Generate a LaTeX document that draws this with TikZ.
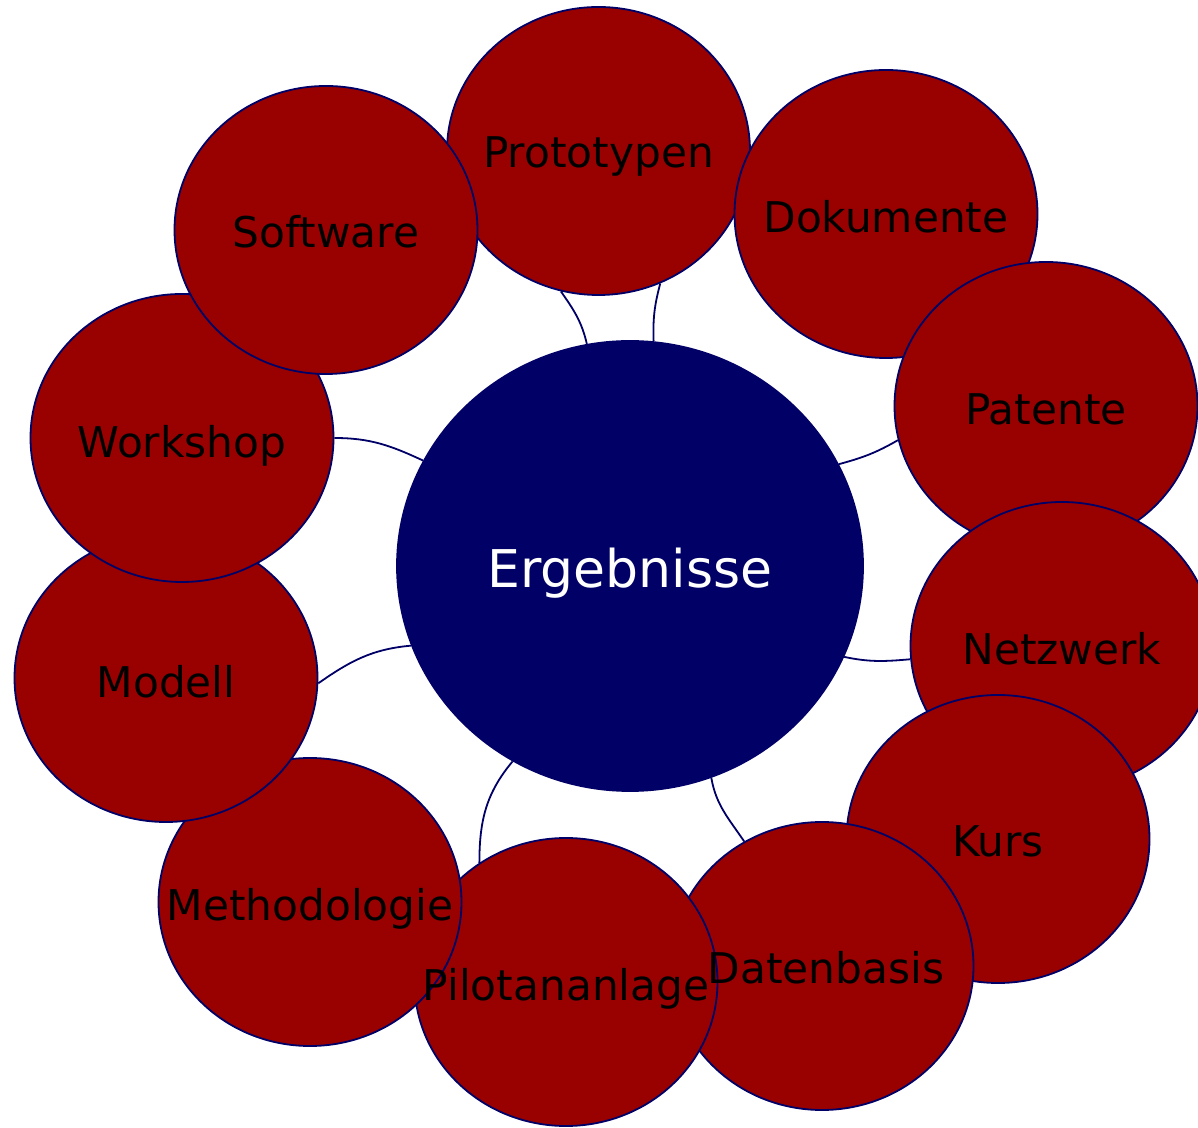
\documentclass[tikz,border=0pt]{standalone}
\usepackage{fontspec}
\setmainfont{DejaVu Sans}
\usetikzlibrary{shapes.geometric}
\pgfdeclarelayer{background}
\pgfsetlayers{background,main}
\definecolor{redfill}{HTML}{990000}
\definecolor{navy}{HTML}{000066}
\tikzset{
  bubble/.style={ellipse, draw=navy, fill=redfill, line width=1.8pt, minimum width=303pt, minimum height=288pt, inner sep=0pt},
  hub/.style={ellipse, draw=navy, fill=navy, line width=1.8pt, minimum width=466pt, minimum height=450pt, inner sep=0pt},
  lbl/.style={anchor=base, inner sep=0pt, text=black, font=\fontsize{42.3}{50}\selectfont},
  hublbl/.style={anchor=base, inner sep=0pt, text=white, font=\fontsize{52}{60}\selectfont},
  conn/.style={draw=navy, line width=1.8pt}
}
\begin{document}
\begin{tikzpicture}[x=1pt,y=1pt]
\useasboundingbox (0,0) rectangle (1198,1127);
\clip (0,0) rectangle (1198,1127);
\node[hub] (C) at (630,561) {};
\node[bubble] (P)  at (598.5,976) {};
\node[bubble] (D)  at (886,913) {};
\node[bubble] (Pa) at (1046,721) {};
\node[bubble] (N)  at (1062,481) {};
\node[bubble] (K)  at (998,288) {};
\node[bubble] (Da) at (822,161) {};
\node[bubble] (Pi) at (566,145) {};
\node[bubble] (Me) at (310,225) {};
\node[bubble] (Mo) at (166,449) {};
\node[bubble] (W)  at (182,689) {};
\node[bubble] (S)  at (326,897) {};
\begin{pgfonlayer}{background}
\path[conn] (C.101) to[out=103,in=-55] (P.255);
\path[conn] (C.84) to[out=92,in=-105] (P.295);
\path[conn] (W.0) to[out=0,in=155] (C.153);
\path[conn] (C.26) to[out=15,in=210] (Pa.193);
\path[conn] (C.-23) to[out=-12,in=185] (N.185);
\path[conn] (Mo.-2) to[out=35,in=185] (C.200.6);
\path[conn] (C.239.4) to[out=-130,in=90] (Pi.126.4);
\path[conn] (C.-69.8) to[out=-80,in=124] (Da.122);
\end{pgfonlayer}
\node[hublbl] (tC)  at ([yshift=-22pt]C.center) {Ergebnisse};
\node[lbl] (tP)  at ([yshift=-17pt]P.center) {Prototypen};
\node[lbl] (tD)  at ([yshift=-19pt]D.center) {Dokumente};
\node[lbl] (tPa) at ([yshift=-19pt]Pa.center) {Patente};
\node[lbl] (tN)  at ([yshift=-19pt]N.center) {Netzwerk};
\node[lbl] (tK)  at ([yshift=-17pt]K.center) {Kurs};
\node[lbl] (tDa) at ([xshift=4pt,yshift=-17pt]Da.center) {Datenbasis};
\node[lbl] (tPi) at ([yshift=-18pt]Pi.center) {Pilotananlage};
\node[lbl] (tMe) at ([yshift=-18pt]Me.center) {Methodologie};
\node[lbl] (tMo) at ([yshift=-20pt]Mo.center) {Modell};
\node[lbl] (tW)  at ([yshift=-20pt]W.center) {Workshop};
\node[lbl] (tS)  at ([yshift=-18pt]S.center) {Software};
\end{tikzpicture}
\end{document}
